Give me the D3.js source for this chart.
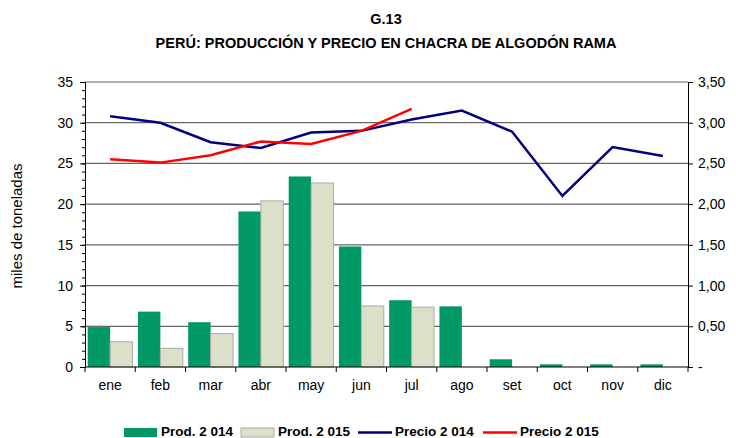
<!DOCTYPE html>
<html>
<head>
<meta charset="utf-8">
<script src="https://cdn.jsdelivr.net/npm/d3@7"></script>
<style>
  body { margin: 0; background: #fff; }
  text { font-family: "Liberation Sans", Arial, sans-serif; }
</style>
</head>
<body>
<svg width="736" height="438"></svg>
<script>
// data
var months = ["ene", "feb", "mar", "abr", "may", "jun", "jul", "ago", "set", "oct", "nov", "dic"];
var prod2014 = [4.9, 6.8, 5.5, 19.1, 23.4, 14.8, 8.2, 7.45, 0.95, 0.33, 0.33, 0.33];
var prod2015 = [3.1, 2.3, 4.1, 20.4, 22.6, 7.5, 7.35, null, null, null, null, null];
var precio2014 = [3.08, 3.00, 2.76, 2.69, 2.88, 2.90, 3.04, 3.15, 2.89, 2.10, 2.70, 2.59];
var precio2015 = [2.55, 2.51, 2.60, 2.77, 2.74, 2.90, 3.17, null, null, null, null, null];
var leftTicks = [0, 5, 10, 15, 20, 25, 30, 35];
var rightTicks = [0, 0.5, 1, 1.5, 2, 2.5, 3, 3.5];

var svg = d3.select("svg");
var plotL = 85, plotR = 688, plotT = 82, plotB = 367;

var x = d3.scaleBand().domain(months).range([plotL, plotR]);
var xs = d3.scaleBand().domain(["p14", "p15"]).range([0, x.bandwidth()]).paddingOuter(0.12);
var y = d3.scaleLinear().domain([0, 35]).range([plotB, plotT]);
var y2 = d3.scaleLinear().domain([0, 3.5]).range([plotB, plotT]);

// titles
svg.append("text").attr("x", 386).attr("y", 24).attr("text-anchor", "middle")
  .attr("font-size", 14.5).attr("font-weight", "bold").text("G.13");
svg.append("text").attr("x", 386).attr("y", 48).attr("text-anchor", "middle")
  .attr("font-size", 14.5).attr("font-weight", "bold")
  .text("PERÚ: PRODUCCIÓN Y PRECIO EN CHACRA DE ALGODÓN RAMA");

// gridlines
svg.append("g").selectAll("line").data(leftTicks.filter(d => d > 0)).enter()
  .append("line")
  .attr("x1", plotL).attr("x2", plotR)
  .attr("y1", d => y(d)).attr("y2", d => y(d))
  .attr("stroke", "#666").attr("stroke-width", 1.2);

// bars
var fmt = d3.format(",.2f");
var groups = svg.append("g").selectAll("g").data(months).enter()
  .append("g").attr("transform", d => "translate(" + x(d) + ",0)");

groups.append("rect")
  .attr("x", xs("p14")).attr("width", xs.bandwidth())
  .attr("y", (d, i) => y(prod2014[i])).attr("height", (d, i) => plotB - y(prod2014[i]))
  .attr("fill", "#009966");

groups.filter((d, i) => prod2015[i] != null).append("rect")
  .attr("x", xs("p15")).attr("width", xs.bandwidth())
  .attr("y", d => y(prod2015[months.indexOf(d)]))
  .attr("height", d => plotB - y(prod2015[months.indexOf(d)]))
  .attr("fill", "#dde0c9").attr("stroke", "#aaa").attr("stroke-width", 1);

// lines
var cx = d => x(d) + x.bandwidth() / 2;
var line = d3.line().defined(d => d.v != null).x(d => cx(d.m)).y(d => y2(d.v));

svg.append("path")
  .datum(months.map((m, i) => ({ m: m, v: precio2014[i] })))
  .attr("d", line).attr("fill", "none").attr("stroke", "#000080").attr("stroke-width", 2.5);
svg.append("path")
  .datum(months.map((m, i) => ({ m: m, v: precio2015[i] })))
  .attr("d", line).attr("fill", "none").attr("stroke", "#ff0000").attr("stroke-width", 2.5);

// axes
svg.append("g").attr("transform", "translate(" + plotL + ",0)")
  .call(d3.axisLeft(y).tickValues(leftTicks).tickSize(5).tickPadding(7).tickFormat(d3.format("d")));
svg.append("g").attr("transform", "translate(" + plotL + ",0)")
  .call(d3.axisLeft(y).tickValues(d3.range(0, 35, 1)).tickSize(3).tickFormat(""));

svg.append("g").attr("transform", "translate(" + plotR + ",0)")
  .call(d3.axisRight(y2).tickValues(rightTicks).tickSize(5).tickPadding(5)
    .tickFormat(d => d === 0 ? "-" : fmt(d).replace(".", ",")));

var xAxis = svg.append("g").attr("transform", "translate(0," + plotB + ")")
  .call(d3.axisBottom(x).tickSize(0).tickPadding(13));
svg.append("g").selectAll("line").data(d3.range(0, 13)).enter()
  .append("line")
  .attr("x1", i => plotL + i * x.step()).attr("x2", i => plotL + i * x.step())
  .attr("y1", plotB).attr("y2", plotB + 5).attr("stroke", "#000");

svg.selectAll(".domain").attr("stroke", "#000").attr("stroke-width", 1);
svg.selectAll(".tick line").attr("stroke", "#000");
svg.selectAll(".tick text").attr("font-size", 14).attr("fill", "#000")
  .attr("font-family", "Liberation Sans, Arial, sans-serif");
xAxis.select(".domain").attr("d", "M" + plotL + ",0H" + plotR);

// y label
svg.append("text").attr("transform", "translate(22,226) rotate(-90)")
  .attr("text-anchor", "middle").attr("font-size", 15).text("miles de toneladas");

// legend
var legend = [
  { name: "Prod. 2 014", type: "bar", color: "#009966", x: 124 },
  { name: "Prod. 2 015", type: "bar", color: "#dde0c9", x: 241 },
  { name: "Precio 2 014", type: "line", color: "#000080", x: 358 },
  { name: "Precio 2 015", type: "line", color: "#ff0000", x: 483 }
];
var lg = svg.append("g").selectAll("g").data(legend).enter().append("g")
  .attr("transform", d => "translate(" + d.x + ",0)");
lg.filter(d => d.type === "bar").append("rect")
  .attr("x", 0).attr("y", 428).attr("width", 33).attr("height", 9)
  .attr("fill", d => d.color).attr("stroke", d => d.color === "#dde0c9" ? "#aaa" : "none");
lg.filter(d => d.type === "line").append("line")
  .attr("x1", 0).attr("x2", 34).attr("y1", 432.5).attr("y2", 432.5)
  .attr("stroke", d => d.color).attr("stroke-width", 2.5);
lg.append("text").attr("x", 37).attr("y", 436)
  .attr("font-size", 13.5).attr("font-weight", "bold").text(d => d.name);
</script>
</body>
</html>
